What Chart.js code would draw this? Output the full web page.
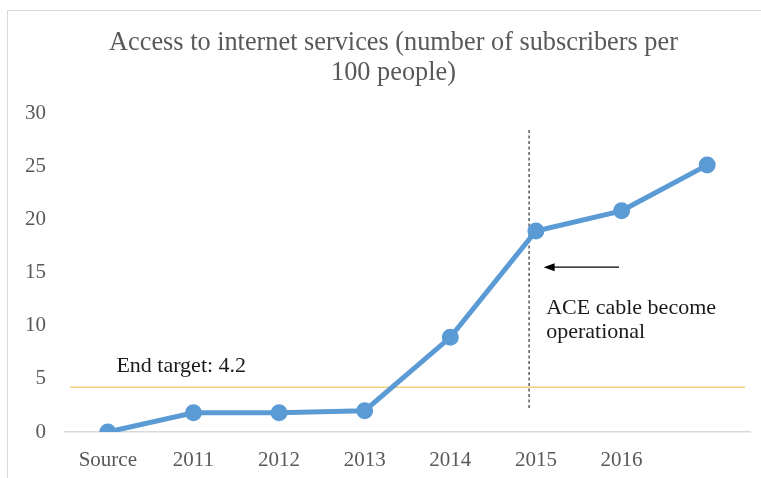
<!DOCTYPE html>
<html>
<head>
<meta charset="utf-8">
<script src="https://cdn.jsdelivr.net/npm/chart.js@4.4.1/dist/chart.umd.min.js"></script>
<style>
  html, body { margin: 0; padding: 0; background: #fff; }
  #wrap { position: relative; width: 761px; height: 478px; overflow: hidden; }
  #frame { position: absolute; left: 7px; top: 10px; width: 900px; height: 600px; border: 1px solid #d9d9d9; box-sizing: border-box; }
  canvas { position: absolute; left: 0; top: 0; }
</style>
</head>
<body>
<div id="wrap">
  <div id="frame"></div>
  <canvas id="c" width="761" height="478"></canvas>
</div>
<script>
const categories = ['Source', '2011', '2012', '2013', '2014', '2015', '2016', ''];
const subscribers = [0, 1.8, 1.8, 2.0, 8.9, 18.9, 20.8, 25.1];
const yTicks = [0, 5, 10, 15, 20, 25, 30];
const endTarget = 4.2;
const targetLabel = 'End target: 4.2';
const cableNote = ['ACE cable become', 'operational'];
const cableIndex = 4.92;   // position of the dotted marker on the category axis
const titleLines = ['Access to internet services (number of subscribers per', '100 people)'];

const SERIF = '"Liberation Serif", "Times New Roman", serif';
const GREY = '#595959';

const annotations = {
  id: 'annotations',
  beforeDraw(chart) {
    const { ctx } = chart;
    ctx.save();
    ctx.fillStyle = GREY;
    ctx.font = '26.3px ' + SERIF;
    ctx.textAlign = 'center';
    ctx.textBaseline = 'middle';
    ctx.fillText(titleLines[0], 393.5, 43);
    ctx.fillText(titleLines[1], 393.5, 73);
    ctx.restore();
  },
  beforeDatasetsDraw(chart) {
    const { ctx, chartArea, scales: { x, y } } = chart;
    ctx.save();
    // target line
    const ty = y.getPixelForValue(endTarget);
    ctx.strokeStyle = '#f2d27a';
    ctx.lineWidth = 1.5;
    ctx.beginPath();
    ctx.moveTo(chartArea.left + 5, ty);
    ctx.lineTo(chartArea.right - 5, ty);
    ctx.stroke();
    // dotted vertical
    const dx = x.getPixelForValue(cableIndex);
    ctx.strokeStyle = '#333';
    ctx.lineWidth = 1.2;
    ctx.setLineDash([3, 2.5]);
    ctx.beginPath();
    ctx.moveTo(dx, y.getPixelForValue(28.4));
    ctx.lineTo(dx, y.getPixelForValue(2.1));
    ctx.stroke();
    ctx.setLineDash([]);
    ctx.restore();
  },
  afterDatasetsDraw(chart) {
    const { ctx, scales: { x, y } } = chart;
    ctx.save();
    // arrow
    const ay = y.getPixelForValue(15.5);
    const ax1 = x.getPixelForValue(5.97);
    const ax2 = x.getPixelForValue(5.09);
    ctx.strokeStyle = '#000';
    ctx.fillStyle = '#000';
    ctx.lineWidth = 1.2;
    ctx.beginPath();
    ctx.moveTo(ax1, ay);
    ctx.lineTo(ax2 + 6, ay);
    ctx.stroke();
    ctx.beginPath();
    ctx.moveTo(ax2, ay);
    ctx.lineTo(ax2 + 11, ay - 4);
    ctx.lineTo(ax2 + 11, ay + 4);
    ctx.closePath();
    ctx.fill();
    // texts
    ctx.fillStyle = '#1a1a1a';
    ctx.font = '22px ' + SERIF;
    ctx.textBaseline = 'middle';
    ctx.textAlign = 'left';
    const tx = x.getPixelForValue(5.12);
    ctx.fillText(cableNote[0], tx, y.getPixelForValue(11.6));
    ctx.fillText(cableNote[1], tx, y.getPixelForValue(9.4));
    ctx.fillText(targetLabel, x.getPixelForValue(0.1), y.getPixelForValue(6.2));
    ctx.restore();
  }
};

new Chart(document.getElementById('c'), {
  type: 'line',
  data: {
    labels: categories,
    datasets: [{
      data: subscribers,
      borderColor: '#5b9bd5',
      backgroundColor: '#5b9bd5',
      borderWidth: 5,
      pointRadius: 6,
      pointHoverRadius: 6,
      pointBackgroundColor: '#5b9bd5',
      pointBorderColor: '#5b9bd5',
      tension: 0
    }]
  },
  options: {
    responsive: false,
    animation: false,
    events: [],
    layout: { padding: { left: 0, right: 11, top: 113, bottom: 0 } },
    plugins: {
      legend: { display: false },
      tooltip: { enabled: false },
      title: { display: false }
    },
    scales: {
      x: {
        offset: true,
        afterFit(scale) { scale.height = 46; },
        grid: { display: false, drawTicks: false },
        border: { display: true, color: '#d9d9d9', width: 1.5 },
        ticks: { color: GREY, font: { family: SERIF, size: 21 }, padding: 16, maxRotation: 0, autoSkip: false }
      },
      y: {
        min: 0, max: 30,
        afterBuildTicks(scale) { scale.ticks = yTicks.map(v => ({ value: v })); },
        afterFit(scale) { scale.width = 65; },
        grid: { display: false, drawTicks: false },
        border: { display: false },
        ticks: { color: GREY, font: { family: SERIF, size: 21 }, padding: 19 }
      }
    }
  },
  plugins: [annotations]
});
</script>
</body>
</html>
